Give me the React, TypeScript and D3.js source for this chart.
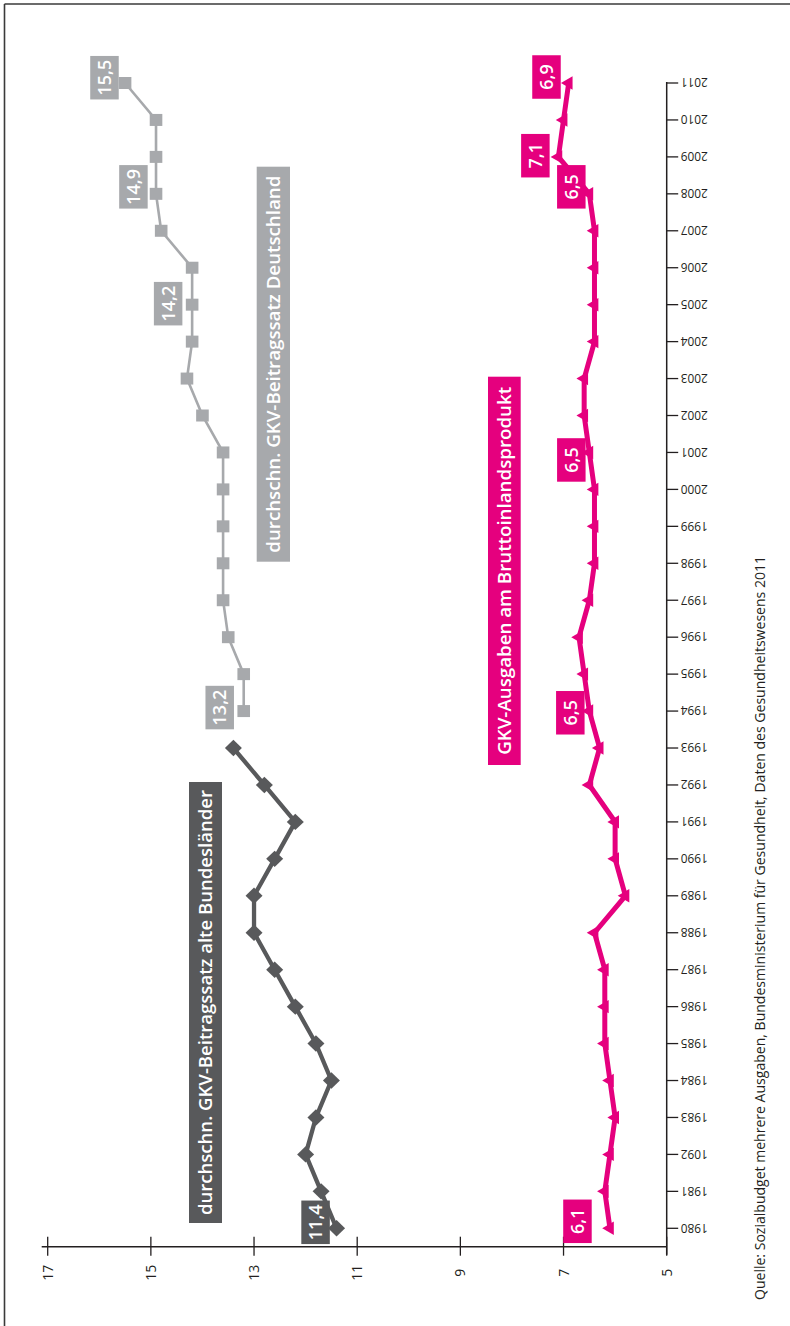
import React from 'react';
import * as d3 from 'd3';

const W = 790;
const H = 1326;

// ---- data ----
const tickYears = [1980,1981,1982,1983,1984,1985,1986,1987,1988,1989,1990,1991,1992,1993,1994,1995,1996,1997,1998,1999,2000,2001,2002,2003,2004,2005,2006,2007,2008,2009,2010,2011];
const yearTickLabels = ['1980','1981','1092','1983','1984','1985','1986','1987','1988','1989','1990','1991','1992','1993','1994','1995','1996','1997','1998','1999','2000','2001','2002','2003','2004','2005','2006','2007','2008','2009','2010','2011'];
const valueTicks = [5, 7, 9, 11, 13, 15, 17];

const westYears = [1980,1981,1982,1983,1984,1985,1986,1987,1988,1989,1990,1991,1992,1993];
const westValues = [11.4, 11.7, 12.0, 11.8, 11.5, 11.8, 12.2, 12.6, 13.0, 13.0, 12.6, 12.2, 12.8, 13.4];

const germanyYears = [1994,1995,1996,1997,1998,1999,2000,2001,2002,2003,2004,2005,2006,2007,2008,2009,2010,2011];
const germanyValues = [13.2, 13.2, 13.5, 13.6, 13.6, 13.6, 13.6, 13.6, 14.0, 14.3, 14.2, 14.2, 14.2, 14.8, 14.9, 14.9, 14.9, 15.5];

const gdpYears = tickYears;
const gdpValues = [6.1, 6.2, 6.1, 6.0, 6.1, 6.2, 6.2, 6.2, 6.4, 5.8, 6.0, 6.0, 6.5, 6.3, 6.5, 6.6, 6.7, 6.5, 6.4, 6.4, 6.4, 6.5, 6.6, 6.6, 6.4, 6.4, 6.4, 6.4, 6.5, 7.1, 7.0, 6.9];

const seriesNames = [
  'durchschn. GKV-Beitragssatz alte Bundesländer',
  'durchschn. GKV-Beitragssatz Deutschland',
  'GKV-Ausgaben am Bruttoinlandsprodukt',
];
const sourceText = 'Quelle: Sozialbudget mehrere Ausgaben, Bundesministerium für Gesundheit, Daten des Gesundheitswesens 2011';

const westLabelYears = [1980];
const germanyLabelYears = [1994, 2005, 2008, 2011];
const gdpLabelYears = [1980, 1994, 2001, 2008, 2009, 2011];

// ---- styles / layout ----
const DARK = '#58595b';
const GRAY = '#a7a9ac';
const PINK = '#e5007e';
const AXIS = '#231f20';
const FONT = '"Open Sans", "Noto Sans", sans-serif';

// label-box offsets (dx, dy of box centre from the data point)
const westLabelOffsets = [[-21, -6]];
const germanyLabelOffsets = [[-24, -3.5], [-24, -1], [-22.6, -7], [-20.6, -5.3]];
const gdpLabelOffsets = [[-32.5, -7], [-19, 1.7], [-18, 7.5], [-18, -7], [-23, -1.2], [-22.2, -6]];

const BOX_W = 28.5;
const BOX_H = 43.5;

const fmt = (v: number) => v.toFixed(1).replace('.', ',');

export default function App() {
  const x = d3.scaleLinear().domain([5, 17]).range([666.7, 47.7]);
  const y = d3.scaleLinear().domain([1980, 2011]).range([1228.3, 83]);
  const axisY = 1246.7;
  const axisX = x(5);

  const line = d3
    .line<[number, number]>()
    .x((d) => x(d[1]))
    .y((d) => y(d[0]));

  const west: [number, number][] = westYears.map((yr, i) => [yr, westValues[i]]);
  const germany: [number, number][] = germanyYears.map((yr, i) => [yr, germanyValues[i]]);
  const gdp: [number, number][] = gdpYears.map((yr, i) => [yr, gdpValues[i]]);

  const triPath = d3.symbol(d3.symbolTriangle, 78)() as string;

  const valueLabel = (
    key: string,
    yr: number,
    v: number,
    off: number[],
    fill: string
  ) => {
    const cx = x(v) + off[0];
    const cy = y(yr) + off[1];
    return (
      <g key={key}>
        <rect x={cx - BOX_W / 2} y={cy - BOX_H / 2} width={BOX_W} height={BOX_H} fill={fill} />
        <text
          transform={`translate(${cx},${cy}) rotate(-90)`}
          textAnchor="middle"
          dy="0.36em"
          fontSize={18}
          fontWeight={600}
          fill="#fff"
          fontFamily={FONT}
        >
          {fmt(v)}
        </text>
      </g>
    );
  };

  const seriesBox = (
    key: string,
    x0: number,
    x1: number,
    y0: number,
    y1: number,
    text: string,
    textLen: number,
    fill: string
  ) => {
    const cx = (x0 + x1) / 2;
    const cy = (y0 + y1) / 2;
    return (
      <g key={key}>
        <rect x={x0} y={y0} width={x1 - x0} height={y1 - y0} fill={fill} />
        <text
          transform={`translate(${cx},${cy}) rotate(-90)`}
          textAnchor="middle"
          dy="0.36em"
          fontSize={18}
          fontWeight={600}
          fill="#fff"
          fontFamily={FONT}
          textLength={textLen}
          lengthAdjust="spacingAndGlyphs"
        >
          {text}
        </text>
      </g>
    );
  };

  return (
    <svg
      width={W}
      height={H}
      viewBox={`0 0 ${W} ${H}`}
      style={{ position: 'absolute', left: 0, top: 0, background: '#fff' }}
      fontFamily={FONT}
    >
      <rect x={0} y={0} width={W} height={H} fill="#fff" />
      {/* frame */}
      <line x1={4.5} y1={4} x2={W} y2={4} stroke="#3a3a3a" strokeWidth={1.6} />
      <line x1={4.5} y1={4} x2={4.5} y2={H} stroke="#3a3a3a" strokeWidth={1.6} />

      {/* vertical (year) axis */}
      <line x1={axisX} y1={y(2011) - 1} x2={axisX} y2={axisY + 8} stroke={AXIS} strokeWidth={1.5} />
      {tickYears.map((yr, i) => (
        <g key={'yt' + yr}>
          <line x1={axisX} y1={y(yr)} x2={axisX + 11.5} y2={y(yr)} stroke={AXIS} strokeWidth={1.3} />
          <text
            transform={`translate(${axisX + 14},${y(yr)}) rotate(180)`}
            textAnchor="end"
            dy="0.36em"
            fontSize={13}
            fill={AXIS}
            textLength={27}
            lengthAdjust="spacingAndGlyphs"
          >
            {yearTickLabels[i]}
          </text>
        </g>
      ))}

      {/* horizontal (value) axis */}
      <line x1={41.7} y1={axisY} x2={axisX} y2={axisY} stroke={AXIS} strokeWidth={1.5} />
      {valueTicks.map((v) => (
        <g key={'vt' + v}>
          <line x1={x(v)} y1={axisY - 10} x2={x(v)} y2={axisY + 9} stroke={AXIS} strokeWidth={1.3} />
          <text
            transform={`translate(${x(v)},${axisY + 26}) rotate(-90)`}
            textAnchor="middle"
            dy="0.36em"
            fontSize={14}
            fill={AXIS}
          >
            {v}
          </text>
        </g>
      ))}

      {/* Deutschland series */}
      <path d={line(germany) as string} fill="none" stroke={GRAY} strokeWidth={2.6} />
      {germany.map(([yr, v]) => (
        <rect key={'g' + yr} x={x(v) - 6.3} y={y(yr) - 6} width={12.6} height={12} fill={GRAY} />
      ))}

      {/* alte Bundeslaender series */}
      <path d={line(west) as string} fill="none" stroke={DARK} strokeWidth={4.3} strokeLinejoin="miter" />
      {west.map(([yr, v]) => {
        const cx = x(v);
        const cy = y(yr);
        return (
          <path
            key={'w' + yr}
            d={`M${cx - 8.5},${cy}L${cx},${cy - 8.2}L${cx + 8.5},${cy}L${cx},${cy + 8.2}Z`}
            fill={DARK}
          />
        );
      })}

      {/* BIP series */}
      <path d={line(gdp) as string} fill="none" stroke={PINK} strokeWidth={5} strokeLinejoin="miter" />
      {gdp.map(([yr, v]) => (
        <path
          key={'p' + yr}
          d={triPath}
          transform={`translate(${x(v)},${y(yr)}) rotate(-90)`}
          fill={PINK}
        />
      ))}

      {/* series name boxes */}
      {seriesBox('sb0', 189, 222, 782, 1223, seriesNames[0], 425, DARK)}
      {seriesBox('sb1', 256.7, 290, 166.7, 561.7, seriesNames[1], 377, GRAY)}
      {seriesBox('sb2', 488, 520.7, 376.7, 765, seriesNames[2], 368, PINK)}

      {/* value labels */}
      {westLabelYears.map((yr, i) =>
        valueLabel('wl' + yr, yr, westValues[westYears.indexOf(yr)], westLabelOffsets[i], DARK)
      )}
      {germanyLabelYears.map((yr, i) =>
        valueLabel('gl' + yr, yr, germanyValues[germanyYears.indexOf(yr)], germanyLabelOffsets[i], GRAY)
      )}
      {gdpLabelYears.map((yr, i) =>
        valueLabel('pl' + yr, yr, gdpValues[gdpYears.indexOf(yr)], gdpLabelOffsets[i], PINK)
      )}

      {/* source */}
      <text
        transform={`translate(760,928) rotate(-90)`}
        textAnchor="middle"
        dy="0.36em"
        fontSize={15}
        fill={AXIS}
        textLength={744}
        lengthAdjust="spacingAndGlyphs"
      >
        {sourceText}
      </text>
    </svg>
  );
}
